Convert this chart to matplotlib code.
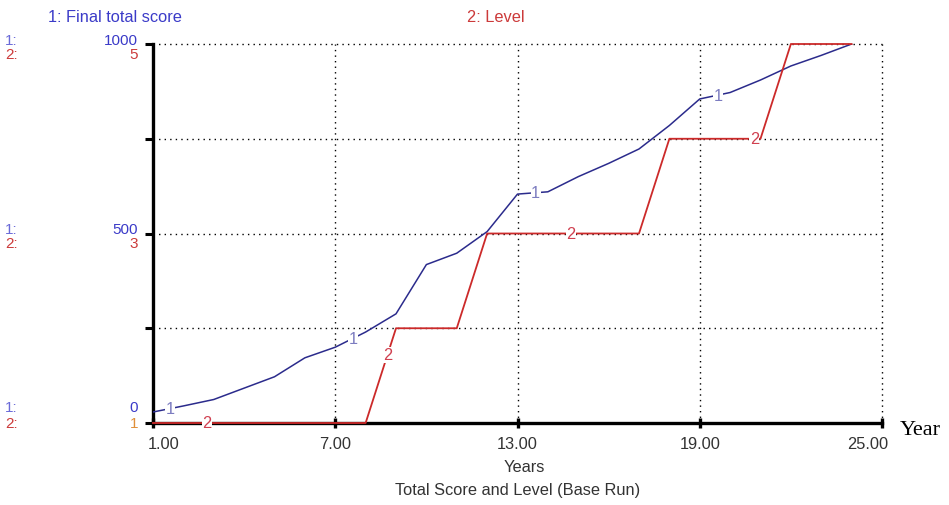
import numpy as np
import matplotlib
matplotlib.use("Agg")
import matplotlib.pyplot as plt
from matplotlib.transforms import ScaledTranslation, blended_transform_factory

years = [1, 2, 3, 4, 5, 6, 7, 8, 9, 10, 11, 12, 13, 14, 15, 16, 17, 18, 19, 20, 21, 22, 23, 24]
total_score = [29, 45, 62, 92, 122, 172, 200, 240, 288, 418, 448, 505, 604, 610, 650, 685, 723, 785, 855, 872, 905, 942, 970, 1000]
level = [1, 1, 1, 1, 1, 1, 1, 1, 2, 2, 2, 3, 3, 3, 3, 3, 3, 4, 4, 4, 4, 5, 5, 5]
x_ticks = [1, 7, 13, 19, 25]
x_tick_labels = ["1.00", "7.00", "13.00", "19.00", "25.00"]
score_ticks = [0, 250, 500, 750, 1000]
score_labels = {0: "0", 500: "500", 1000: "1000"}
level_labels = {0: "1", 500: "3", 1000: "5"}
blue_marker_years = [1.56, 7.58, 13.6, 19.6]
red_marker_years = [2.78, 8.72, 14.75, 20.8]

BLUE = "#2b2b8c"
BLUE_TXT = "#3b3bc8"
RED = "#cc2a2a"
RED_TXT = "#cc3a3a"
FS = 11.8
FS_Y = 11.0

plt.rcParams['font.family'] = ['Liberation Sans', 'DejaVu Sans']

fig = plt.figure(figsize=(9.49, 5.06), dpi=100)
ax = fig.add_axes([153/949, 1-424/506, (882-153)/949, (424-45)/506])
ax.set_xlim(1, 25)
ax.set_ylim(0, 1000)

# grid
for xv in x_ticks[1:]:
    ax.plot([xv, xv], [0, 1000], color="black", lw=1.0, ls=(0, (1, 3)), zorder=1, clip_on=False)
for yv in score_ticks[1:]:
    ax.plot([1, 25], [yv, yv], color="black", lw=1.0, ls=(0, (1, 3)), zorder=1, clip_on=False)

for s in ["top", "right"]:
    ax.spines[s].set_visible(False)
ax.spines["left"].set_linewidth(2.4)
ax.spines["bottom"].set_linewidth(2.4)

ax.set_xticks(x_ticks)
ax.set_xticklabels(x_tick_labels, fontsize=FS, color="#333333")
ax.tick_params(axis="x", length=7, width=2.4, direction="inout", pad=6)
xl = ax.get_xticklabels()
xl[0].set_horizontalalignment("left")
xl[0].set_transform(xl[0].get_transform() + ScaledTranslation(-0.05, 0, fig.dpi_scale_trans))
xl[-1].set_horizontalalignment("right")
xl[-1].set_transform(xl[-1].get_transform() + ScaledTranslation(0.06, 0, fig.dpi_scale_trans))
ax.set_yticks(score_ticks)
ax.set_yticklabels([])
ax.tick_params(axis="y", length=6, width=2.2, direction="out")

# lines
ax.plot(years, total_score, color=BLUE, lw=1.1, zorder=4)
level_scaled = [(v - 1) * 250 for v in level]
ax.plot(years, level_scaled, color=RED, lw=1.3, zorder=5, clip_on=False)

# numbered markers on lines
for yr in blue_marker_years:
    yv = np.interp(yr, years, total_score)
    ax.text(yr, yv, "1", color="#7c7cc0", fontsize=FS, ha="center", va="center", zorder=6,
            bbox=dict(boxstyle="square,pad=0.02", fc="white", ec="none"))
for yr in red_marker_years:
    yv = np.interp(yr, years, level_scaled)
    ax.text(yr, yv, "2", color="#d04050", fontsize=FS, ha="center", va="center", zorder=6,
            bbox=dict(boxstyle="square,pad=0.02", fc="white", ec="none"))

# y tick labels (two scales)
tr = blended_transform_factory(ax.transAxes, ax.transData)
def off(dx, dy):
    return tr + ScaledTranslation(dx/100, dy/100, fig.dpi_scale_trans)

for yv in [0, 500, 1000]:
    s_dy = 16 if yv == 0 else 4
    l_dy = 0 if yv == 0 else -10
    ax.text(0, yv, score_labels[yv], transform=off(-15, s_dy), ha="right", va="center",
            fontsize=FS_Y, color=BLUE_TXT, clip_on=False)
    ax.text(0, yv, level_labels[yv], transform=off(-15, l_dy), ha="right", va="center",
            fontsize=FS_Y, color="#e0903a" if yv == 0 else RED_TXT, clip_on=False)
    ax.text(0, yv, "1:", transform=off(-148, s_dy), ha="left", va="center",
            fontsize=FS_Y, color="#6a6ad8", clip_on=False)
    ax.text(0, yv, "2:", transform=off(-148, l_dy), ha="left", va="center",
            fontsize=FS_Y, color=RED_TXT, clip_on=False)

# legend titles
fig.text(48/949, 1-17/506, "1: Final total score", fontsize=FS, color=BLUE_TXT, ha="left", va="center")
fig.text(467/949, 1-17/506, "2: Level", fontsize=FS, color=RED_TXT, ha="left", va="center")

# axis texts
fig.text(524/949, 1-468/506, "Years", fontsize=FS, color="#333333", ha="center", va="center")
fig.text(518/949, 1-491/506, "Total Score and Level (Base Run)", fontsize=FS, color="#333333",
         ha="center", va="center")
fig.text(900/949, 1-431/506, "Year", fontsize=16, family=["Liberation Serif", "DejaVu Serif"],
         color="black", ha="left", va="center")

fig.savefig("out.png", dpi=100)
